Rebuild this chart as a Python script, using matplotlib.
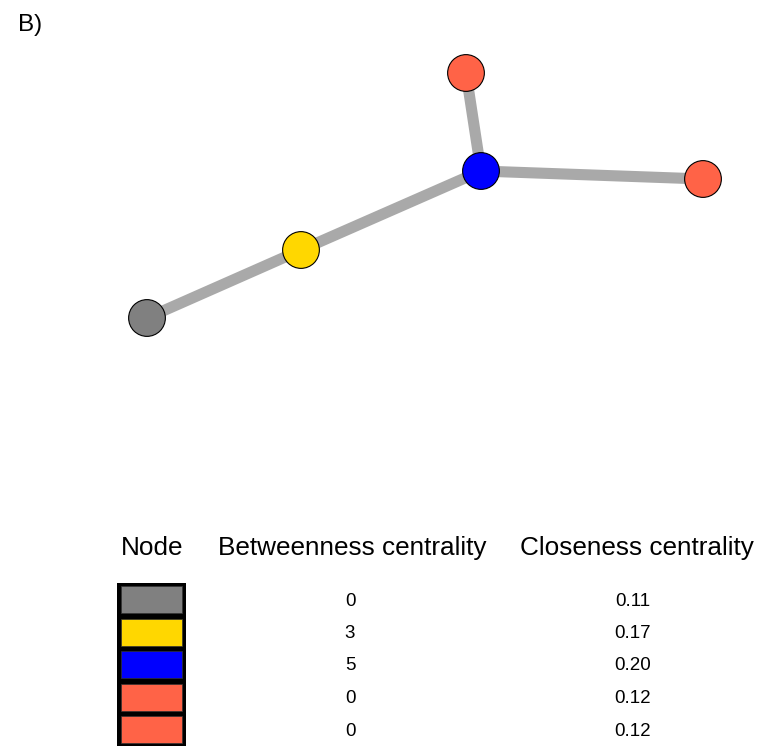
import matplotlib
matplotlib.use('Agg')
import matplotlib.pyplot as plt
from matplotlib.patches import Rectangle

plt.rcParams['font.family'] = ['Liberation Sans', 'DejaVu Sans']

# network layout (pixel space of the original figure)
node_x = [147, 301, 481, 466, 703]
node_y = [318, 250, 171, 73, 179]
node_colors = ['#808080', '#FFD700', '#0000FF', '#FF6347', '#FF6347']
edges = [(0, 1), (1, 2), (2, 3), (2, 4)]

# centrality table
headers = ['Node', 'Betweenness centrality', 'Closeness centrality']
betweenness = ['0', '3', '5', '0', '0']
closeness = ['0.11', '0.17', '0.20', '0.12', '0.12']

W, H = 767, 746
fig = plt.figure(figsize=(W / 100, H / 100), dpi=100)
ax = fig.add_axes([0, 0, 1, 1])
ax.set_xlim(0, W)
ax.set_ylim(H, 0)
ax.axis('off')

for a, b in edges:
    ax.plot([node_x[a], node_x[b]], [node_y[a], node_y[b]], color='#A9A9A9',
            lw=8, solid_capstyle='butt', zorder=1)
ax.scatter(node_x, node_y, s=700, c=node_colors, edgecolors='black',
           linewidths=0.8, zorder=2)

ax.text(18, 25, 'B)', fontsize=17.5, va='center', ha='left')

# table
head_y = 548
col_x = [152, 352, 637]
val_x = [350, 633]
row0, row_h = 599.5, 32.5
for x, h in zip(col_x, headers):
    ax.text(x, head_y, h, fontsize=18.8, ha='center', va='center')

n = len(node_colors)
ax.add_patch(Rectangle((117, row0 - 16.5), 69, row_h * n + 3,
                       facecolor='black', edgecolor='none', zorder=1))
for i, (c, b, cl) in enumerate(zip(node_colors, betweenness, closeness)):
    yc = row0 + i * row_h
    ax.add_patch(Rectangle((120.5, yc - 13.5), 61.5, 27, facecolor=c,
                           edgecolor='#333333', lw=0.5, zorder=2))
    ax.text(val_x[0], yc + 1.5, b, fontsize=13.5, ha='center', va='center')
    ax.text(val_x[1], yc + 1.5, cl, fontsize=13.5, ha='center', va='center')

fig.savefig('out.png', dpi=100)
